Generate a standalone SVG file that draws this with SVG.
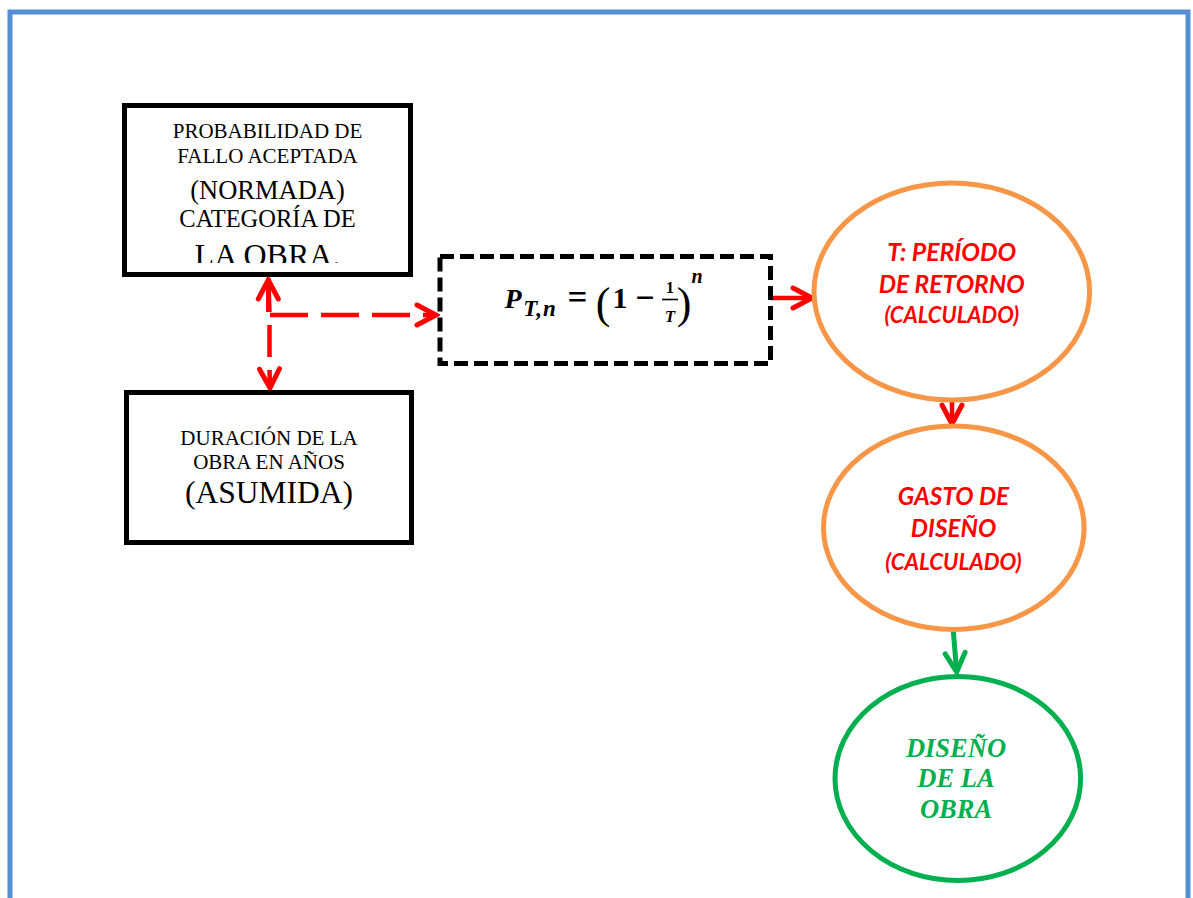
<svg xmlns="http://www.w3.org/2000/svg" width="1193" height="898" viewBox="0 0 1193 898">
<style>
.box{fill:#fff;stroke:#000;stroke-width:5}
.tnr{font-family:"Liberation Serif","Times New Roman",serif;fill:#000;text-anchor:middle}
.cal{font-family:Lato,"Open Sans",sans-serif;font-weight:bold;font-style:italic;fill:#ff0000;text-anchor:middle}
.grn{font-family:"Liberation Serif","Times New Roman",serif;font-weight:bold;font-style:italic;fill:#00b050;text-anchor:middle;font-size:26.5px}
.math{font-family:"Liberation Serif","Times New Roman",serif;fill:#000;text-anchor:middle}
.red{fill:none;stroke:#ff0000;stroke-width:4.5}
.dash{stroke-dasharray:38 13}
.grnl{fill:none;stroke:#00b050;stroke-width:5}
.org{fill:#fff;stroke:#f79646;stroke-width:5}
</style>
<defs>
<marker id="hr" markerUnits="userSpaceOnUse" viewBox="-26 -16 30 32" refX="0" refY="0" markerWidth="30" markerHeight="32" orient="auto">
<path d="M-19,-10 L0,0 L-19,10" fill="none" stroke="#ff0000" stroke-width="5" stroke-linecap="round" stroke-linejoin="miter"/>
</marker>
<marker id="hg" markerUnits="userSpaceOnUse" viewBox="-26 -16 30 32" refX="0" refY="0" markerWidth="30" markerHeight="32" orient="auto">
<path d="M-19,-10 L0,0 L-19,10" fill="none" stroke="#00b050" stroke-width="5" stroke-linecap="round"/>
</marker>
<clipPath id="c1"><rect x="127" y="108" width="281" height="155"/></clipPath>
</defs>
<rect x="0" y="0" width="1193" height="898" fill="#fff"/>
<rect id="frame" x="10" y="12" width="1178" height="900" fill="none" stroke="#558ed5" stroke-width="5"/>

<g id="connectors">
<path class="red dash" d="M268.3,312 L268.3,280" marker-end="url(#hr)"/>
<path class="red dash" d="M268.3,278 L269.5,312 M269.5,325 L269.5,357 M269.5,370 L270,388" marker-end="url(#hr)"/>
<path class="red dash" d="M270,315 L436,315" marker-end="url(#hr)"/>
<path class="red" d="M771,298 L812,298" marker-end="url(#hr)"/>
<path class="red" stroke-width="6" d="M952,400 L952,424" marker-end="url(#hr)"/>
<path class="grnl" d="M953.3,631 L956.7,672" marker-end="url(#hg)"/>
</g>

<g id="box-probabilidad">
<rect class="box" x="124.5" y="105.5" width="286" height="169"/>
<g clip-path="url(#c1)">
<text class="tnr" x="267.5" y="138" font-size="21">PROBABILIDAD DE</text>
<text class="tnr" x="267.5" y="163" font-size="21">FALLO ACEPTADA</text>
<text class="tnr" x="267.5" y="199" font-size="26.5">(NORMADA)</text>
<text class="tnr" x="267.5" y="227" font-size="24.5">CATEGORÍA DE</text>
<text class="tnr" x="267.5" y="265.5" font-size="32">LA OBRA.</text>
</g>
</g>

<g id="box-duracion">
<rect class="box" x="126.5" y="392.5" width="285" height="150"/>
<text class="tnr" x="269" y="445" font-size="21">DURACIÓN DE LA</text>
<text class="tnr" x="269" y="469" font-size="21">OBRA EN AÑOS</text>
<text class="tnr" x="269" y="503" font-size="31.5">(ASUMIDA)</text>
</g>

<g id="box-formula">
<rect x="440" y="256.5" width="330.5" height="107" fill="#fff" stroke="#000" stroke-width="5" stroke-dasharray="14 6"/>
<text class="math" x="513" y="308" font-size="28" font-weight="bold" font-style="italic">P</text>
<text class="math" x="540" y="316" font-size="23" font-weight="bold" font-style="italic" letter-spacing="1">T,n</text>
<text class="math" x="577.5" y="309" font-size="35" font-weight="bold">=</text>
<text class="math" x="603" y="318" font-size="44">(</text>
<text class="math" x="620" y="308" font-size="30" font-weight="bold">1</text>
<text class="math" x="645" y="308.5" font-size="34" font-weight="bold">−</text>
<text class="math" x="670" y="293" font-size="16" font-weight="bold">1</text>
<line x1="662" y1="299.5" x2="678" y2="299.5" stroke="#000" stroke-width="1.6"/>
<text class="math" x="670" y="322" font-size="17" font-weight="bold" font-style="italic">T</text>
<text class="math" x="684" y="318" font-size="44">)</text>
<text class="math" x="697" y="283" font-size="20" font-weight="bold" font-style="italic">n</text>
</g>

<g id="ellipse-periodo">
<ellipse class="org" cx="951.8" cy="291.5" rx="137.8" ry="108.5"/>
<text class="cal" x="951.8" y="261" font-size="24.8">T: PERÍODO</text>
<text class="cal" x="951.8" y="293" font-size="24.5">DE RETORNO</text>
<text class="cal" x="951.8" y="323" font-size="22">(CALCULADO)</text>
</g>

<g id="ellipse-gasto">
<ellipse class="org" cx="953.8" cy="527.8" rx="130.3" ry="101.8"/>
<text class="cal" x="953.5" y="505" font-size="24.3">GASTO DE</text>
<text class="cal" x="953.5" y="537" font-size="24.3">DISEÑO</text>
<text class="cal" x="953.5" y="570" font-size="22.3">(CALCULADO)</text>
</g>

<g id="ellipse-diseno">
<ellipse cx="957.8" cy="778.5" rx="122.8" ry="102" fill="#fff" stroke="#00b050" stroke-width="5"/>
<text class="grn" x="956" y="757">DISEÑO</text>
<text class="grn" x="956" y="787">DE LA</text>
<text class="grn" x="956" y="818">OBRA</text>
</g>
</svg>
